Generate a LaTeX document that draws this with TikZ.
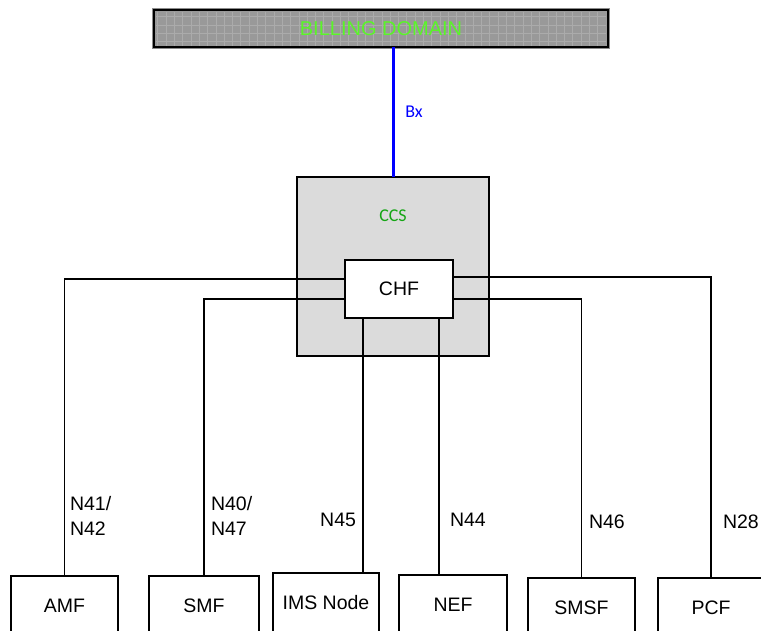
\documentclass[tikz,border=0pt]{standalone}
\usepackage{fontspec}
\setmainfont{Liberation Sans}
\newfontfamily\carl{Carlito}
\definecolor{billgreen}{RGB}{90,245,40}
\definecolor{ccsgreen}{RGB}{20,165,20}
\definecolor{bxblue}{RGB}{0,0,255}
\begin{document}
\begin{tikzpicture}[x=1pt,y=-1pt,
  every node/.style={inner sep=0pt,outer sep=0pt},
  nfbox/.style={draw=black,line width=1.3pt,fill=white,minimum width=#1,minimum height=60pt,font=\fontsize{19.5}{24}\selectfont},
  iface/.style={draw=black,line width=1.3pt},
  lbl/.style={font=\fontsize{19.5}{25}\selectfont,align=left}]
\useasboundingbox (0,0) rectangle (761,630);
% billing domain
\node[draw=black,line width=2pt,fill=black!40,minimum width=454pt,minimum height=37pt] (bill) at (381,28.5) {};
\begin{scope}
\clip (156,12) rectangle (606,45);
\draw[white,opacity=0.18,line width=0.5pt,step=8.3pt] (150,5) grid (610,50);
\end{scope}
\draw[black!45,line width=0.6pt] (152.5,8.5) rectangle (609.5,48.5);
\node[font=\fontsize{20}{24}\selectfont,text=billgreen] (billtxt) at (381,29) {BILLING DOMAIN};
% CCS
\node[draw=black,line width=1.3pt,fill=black!14,minimum width=192pt,minimum height=179pt] (ccs) at (393,266.5) {};
\node[font=\carl\fontsize{18}{22}\selectfont,text=ccsgreen] (ccstxt) at (393,216) {CCS};
\draw[bxblue,line width=3pt] (ccs.north |- bill.south) -- (ccs.north);
\node[font=\carl\fontsize{18}{22}\selectfont,text=bxblue] (bx) at (414,112) {Bx};
% CHF
\node[draw=black,line width=1.5pt,fill=white,minimum width=108pt,minimum height=58pt,font=\fontsize{19.5}{24}\selectfont] (chf) at (399,289) {CHF};
% NF boxes
\node[nfbox=107pt] (amf) at (64.5,606) {AMF};
\node[nfbox=110pt] (smf) at (204,606) {SMF};
\node[nfbox=106pt] (ims) at (326,603) {IMS Node};
\node[nfbox=108pt] (nef) at (453,605) {NEF};
\node[nfbox=107pt] (smsf) at (581.5,608) {SMSF};
\node[nfbox=106pt] (pcf) at (711,608) {PCF};
% interfaces
\draw[iface] ([yshift=10pt]chf.west) -| (amf.north);
\draw[iface] ([yshift=-10pt]chf.west) -| (smf.north);
\draw[iface] ([yshift=12pt]chf.east) -| (pcf.north);
\draw[iface] ([yshift=-10pt]chf.east) -| (smsf.north);
\draw[iface] ([xshift=-36pt]chf.south) -- ([xshift=-36pt]chf.south |- ims.north);
\draw[iface] ([xshift=40pt]chf.south) -- ([xshift=40pt]chf.south |- nef.north);
% labels
\node[lbl,anchor=west] (l1) at (70,516) {N41/\\N42};
\node[lbl,anchor=west] (l2) at (211,516) {N40/\\N47};
\node[lbl,anchor=east] (l3) at (356,520) {N45};
\node[lbl,anchor=west] (l4) at (450,520) {N44};
\node[lbl,anchor=west] (l5) at (589,522) {N46};
\node[lbl,anchor=west] (l6) at (723,522) {N28};
\end{tikzpicture}
\end{document}
